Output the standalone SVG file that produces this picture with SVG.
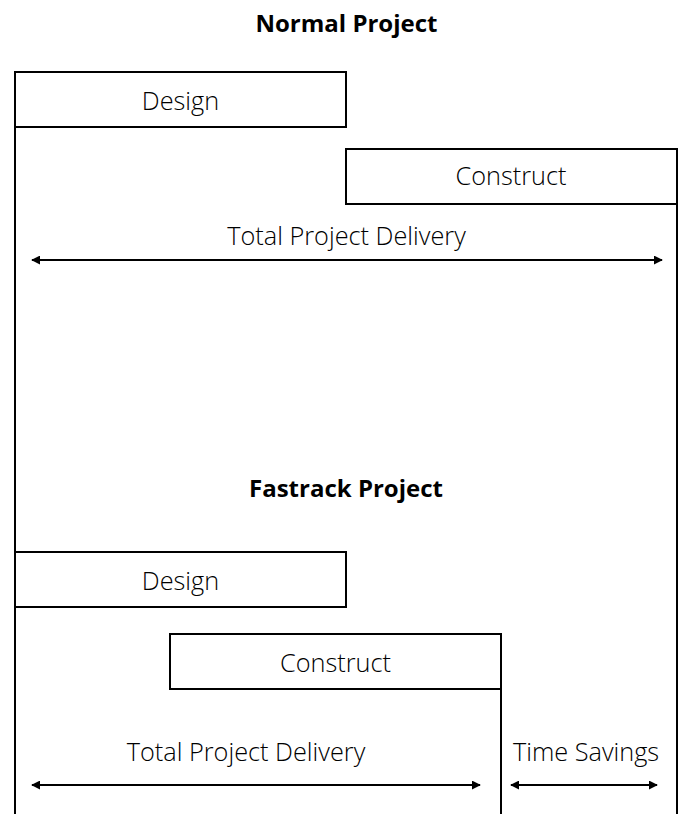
<svg xmlns="http://www.w3.org/2000/svg" width="678" height="814" viewBox="0 0 678 814">
<defs>
<marker id="ah" viewBox="0 0 10 10" refX="9" refY="5" markerWidth="4.5" markerHeight="4.5" orient="auto-start-reverse" markerUnits="strokeWidth">
<path d="M0,0 L10,5 L0,10 z" fill="#000"/>
</marker>
</defs>
<style>
.box{fill:#fff;stroke:#000;stroke-width:2}
.line{stroke:#000;stroke-width:2;fill:none}
.arr{stroke:#000;stroke-width:2;fill:none;marker-start:url(#ah);marker-end:url(#ah)}
.lbl{font-family:"Open Sans","Noto Sans",sans-serif;font-weight:300;font-size:25.3px;fill:#000;text-anchor:middle}
.ttl{font-family:"Open Sans","Noto Sans",sans-serif;font-weight:700;font-size:24px;fill:#000;text-anchor:middle}
</style>
<rect width="678" height="814" fill="#fff"/>
<g id="guides">
<line class="line" x1="15" y1="72" x2="15" y2="814"/>
<line class="line" x1="677" y1="149" x2="677" y2="814"/>
<line class="line" x1="501" y1="634" x2="501" y2="814"/>
</g>
<text class="ttl" x="346.5" y="32">Normal Project</text>
<g id="normal-design">
<rect class="box" x="15" y="72" width="331" height="55"/>
<text class="lbl" x="180.5" y="110">Design</text>
</g>
<g id="normal-construct">
<rect class="box" x="346" y="149" width="331" height="55"/>
<text class="lbl" x="511" y="185">Construct</text>
</g>
<text class="ttl" x="346" y="497">Fastrack Project</text>
<g id="fast-design">
<rect class="box" x="15" y="552" width="331" height="55"/>
<text class="lbl" x="180.5" y="590">Design</text>
</g>
<g id="fast-construct">
<rect class="box" x="170" y="634" width="331" height="55"/>
<text class="lbl" x="335.5" y="672">Construct</text>
</g>
<g id="connectors">
<line class="arr" x1="32" y1="260" x2="662" y2="260"/>
<line class="arr" x1="32" y1="785" x2="480" y2="785"/>
<line class="arr" x1="511" y1="785" x2="657" y2="785"/>
</g>
<text class="lbl" x="346.5" y="245">Total Project Delivery</text>
<text class="lbl" x="246" y="761">Total Project Delivery</text>
<text class="lbl" x="586" y="761">Time Savings</text>
</svg>
